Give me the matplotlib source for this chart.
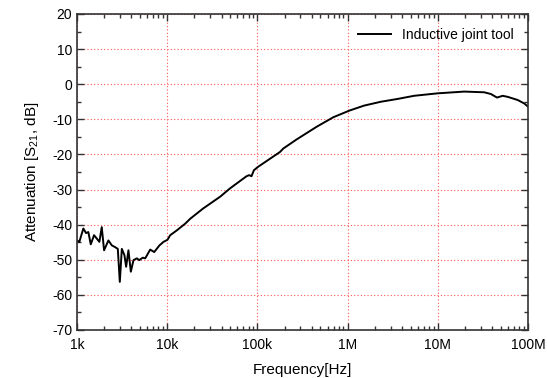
import numpy as np
import matplotlib.pyplot as plt
from matplotlib.ticker import FixedLocator, LogLocator, NullFormatter, MultipleLocator

plt.rcParams['font.family'] = ['Liberation Sans', 'DejaVu Sans']
plt.rcParams['mathtext.default'] = 'regular'
plt.rcParams['axes.unicode_minus'] = False

# frequency [Hz] and attenuation [dB]
freq = [1000, 1061, 1175, 1259, 1335, 1420, 1545, 1770, 1880, 1995, 2228, 2432,
        2643, 2833, 2981, 3139, 3357, 3503, 3716, 3951, 4227, 4606, 4887, 5370,
        5700, 6477, 7173, 8207, 9101, 10070, 10790, 12820, 15850, 18020, 25000,
        38800, 49500, 75800, 81000, 86000, 91400, 102000, 178000, 194000, 273000,
        455000, 695000, 1.05e6, 1.52e6, 2.33e6, 3.57e6, 5.46e6, 9.93e6, 19.6e6,
        32.7e6, 38.8e6, 45.3e6, 52.4e6, 59.5e6, 76.9e6, 91e6, 100e6]
atten = [-44.5, -44.9, -41.1, -42.4, -42.1, -45.6, -43.0, -44.9, -40.7, -47.3,
         -44.5, -45.9, -46.4, -46.9, -56.3, -46.9, -48.7, -52.0, -47.3, -53.4,
         -50.1, -49.6, -50.1, -49.4, -49.6, -47.1, -47.8, -45.9, -44.9, -44.3,
         -43.0, -41.6, -39.7, -38.3, -35.4, -32.0, -29.7, -26.2, -25.9, -26.2,
         -24.5, -23.5, -19.3, -18.3, -15.7, -12.1, -9.4, -7.5, -6.1, -5.0, -4.2,
         -3.3, -2.6, -2.1, -2.3, -2.8, -3.8, -3.3, -3.6, -4.5, -5.5, -6.4]

xticks = [1e3, 1e4, 1e5, 1e6, 1e7, 1e8]
xlabels = ['1k', '10k', '100k', '1M', '10M', '100M']

fig = plt.figure(figsize=(5.47, 3.78), dpi=100)
ax = fig.add_axes([0.1408, 0.127, 0.8245, 0.836])

ax.plot(freq, atten, color='black', linewidth=1.4, label='Inductive joint tool')

ax.set_xscale('log')
ax.set_xlim(1e3, 1e8)
ax.set_ylim(-70, 20)
ax.xaxis.set_major_locator(FixedLocator(xticks))
ax.set_xticklabels(xlabels)
ax.xaxis.set_minor_locator(LogLocator(base=10, subs=np.arange(2, 10)))
ax.xaxis.set_minor_formatter(NullFormatter())
ax.yaxis.set_major_locator(MultipleLocator(10))
ax.yaxis.set_minor_locator(MultipleLocator(5))

ax.tick_params(which='both', direction='in', top=True, right=True, labelsize=10, colors='#333333')
ax.tick_params(which='major', length=5, width=1)
ax.tick_params(which='minor', length=3, width=1)
for lab in ax.get_xticklabels() + ax.get_yticklabels():
    lab.set_color('black')
ax.tick_params(axis='x', pad=6)

for s in ax.spines.values():
    s.set_color('#333333')
    s.set_linewidth(1.2)

ax.grid(True, which='major', color='#ff5555', linestyle=(0, (1, 2)), linewidth=0.8)

ax.set_xlabel('Frequency[Hz]', fontsize=11, labelpad=8)
ax.set_ylabel('Attenuation [S$_{21}$, dB]', fontsize=11, labelpad=8)

ax.legend(loc='upper right', frameon=False, fontsize=10, handlelength=2.4, borderaxespad=0.6)

fig.savefig('out.png', dpi=100)
